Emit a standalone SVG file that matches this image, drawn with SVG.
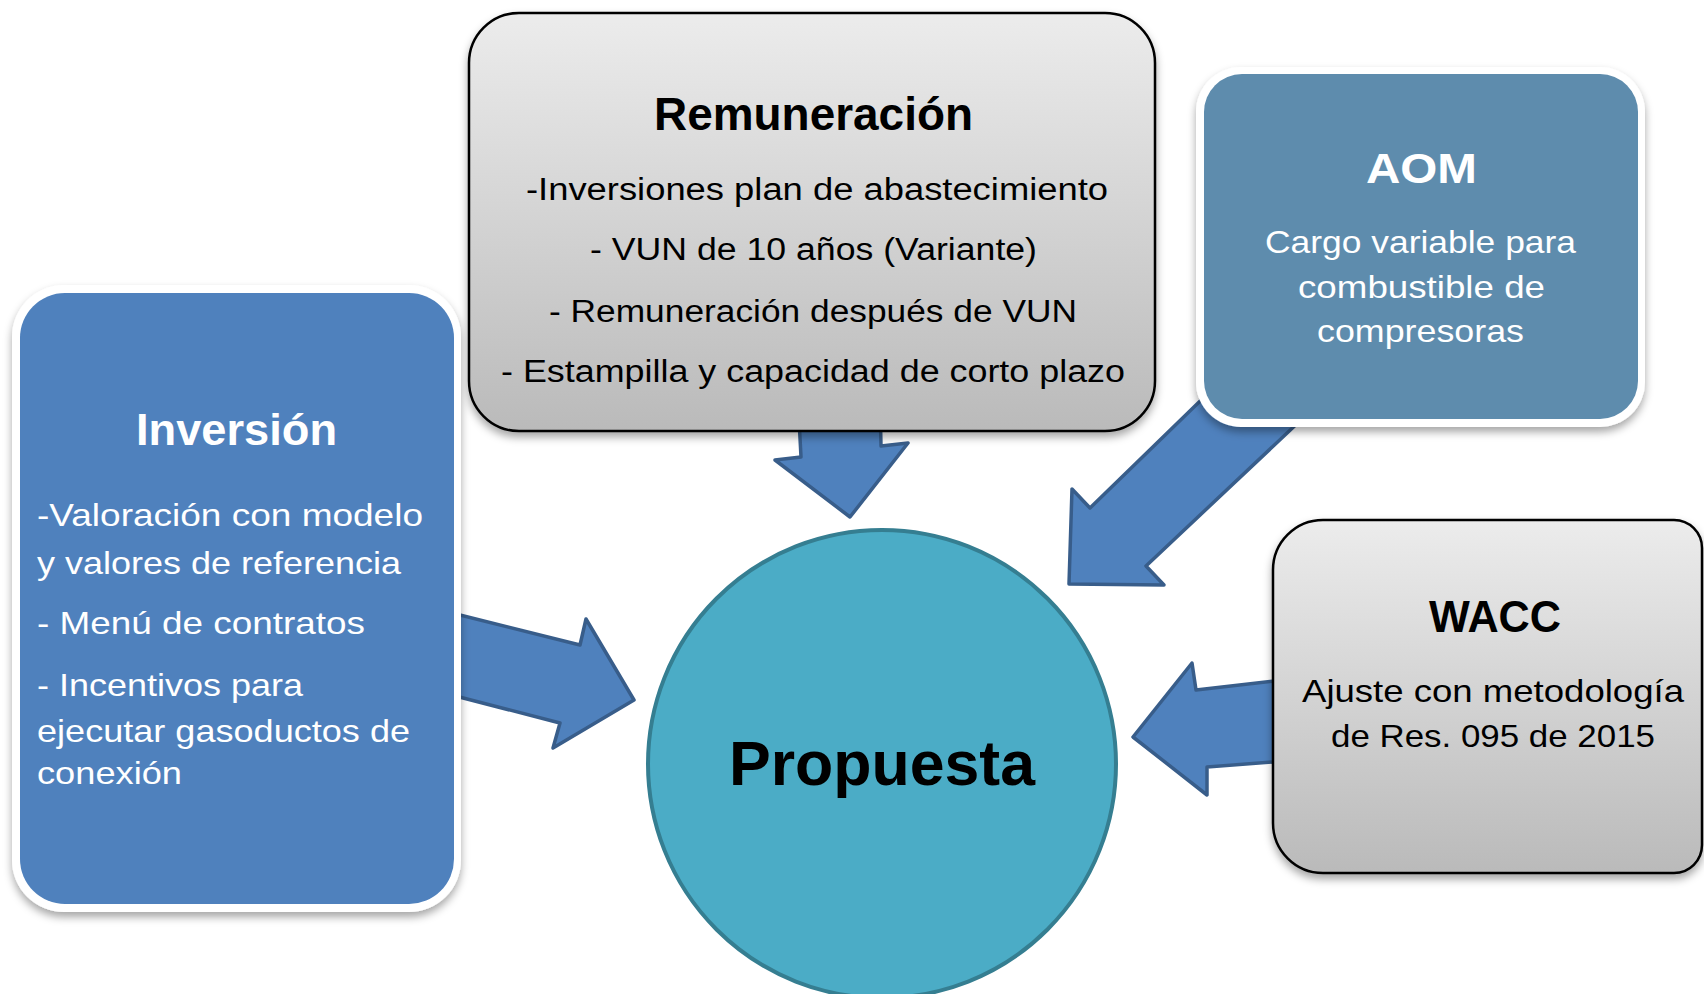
<svg xmlns="http://www.w3.org/2000/svg" width="1704" height="994" viewBox="0 0 1704 994">
<defs>
<linearGradient id="gray" x1="0" y1="0" x2="0" y2="1">
<stop offset="0" stop-color="#ececec"/>
<stop offset="1" stop-color="#bababa"/>
</linearGradient>
<filter id="sh" x="-10%" y="-10%" width="120%" height="125%">
<feDropShadow dx="0" dy="5" stdDeviation="4" flood-color="#000" flood-opacity="0.35"/>
</filter>
</defs>
<style>
text{font-family:"Liberation Sans",Arial,sans-serif;}
.t{font-weight:bold;}
.w{fill:#ffffff;}
.k{fill:#000000;}
.arrow{fill:#4f81bd;stroke:#385d8a;stroke-width:3.5;stroke-linejoin:round;}
.grayBox{fill:url(#gray);stroke:#000;stroke-width:2.5;}
</style>
<rect width="1704" height="994" fill="#ffffff"/>
<g id="connectors">
<polygon class="arrow" points="798,400 801,457 775,460 850,517 908,443 881,446 880,400"/>
<polygon class="arrow" points="1230,372 1090,508 1072,489 1069,584 1164,585 1146,566 1320,402"/>
<polygon class="arrow" points="440,610 580,645 586,619 634,700 553,748 560,723 440,692"/>
<polygon class="arrow" points="1300,678 1196,690 1192,663 1133,737 1207,795 1207,767 1300,760"/>
</g>
<g id="remuneracion">
<rect class="grayBox" x="469" y="13" width="686" height="418" rx="50" filter="url(#sh)"/>
<text class="t k" x="654" y="130" font-size="46" textLength="319" lengthAdjust="spacingAndGlyphs">Remuneración</text>
<text class="k" x="526" y="200" font-size="31" textLength="582" lengthAdjust="spacingAndGlyphs">-Inversiones plan de abastecimiento</text>
<text class="k" x="590" y="260" font-size="31" textLength="447" lengthAdjust="spacingAndGlyphs">- VUN de 10 años (Variante)</text>
<text class="k" x="549" y="322" font-size="31" textLength="528" lengthAdjust="spacingAndGlyphs">- Remuneración después de VUN</text>
<text class="k" x="501" y="382" font-size="31" textLength="624" lengthAdjust="spacingAndGlyphs">- Estampilla y capacidad de corto plazo</text>
</g>
<g id="aom">
<rect x="1196" y="67" width="449" height="360" rx="45" fill="#ffffff" filter="url(#sh)"/>
<rect x="1204" y="74" width="434" height="345" rx="38" fill="#5e8cad"/>
<text class="t w" x="1366" y="183" font-size="43" textLength="111" lengthAdjust="spacingAndGlyphs">AOM</text>
<text class="w" x="1265" y="253" font-size="32" textLength="311" lengthAdjust="spacingAndGlyphs">Cargo variable para</text>
<text class="w" x="1298" y="298" font-size="32" textLength="247" lengthAdjust="spacingAndGlyphs">combustible de</text>
<text class="w" x="1317" y="342" font-size="32" textLength="207" lengthAdjust="spacingAndGlyphs">compresoras</text>
</g>
<g id="inversion">
<rect x="12" y="285" width="449" height="627" rx="52" fill="#ffffff" filter="url(#sh)"/>
<rect x="20" y="293" width="434" height="611" rx="45" fill="#4f81bd"/>
<text class="t w" x="136" y="445" font-size="45" textLength="201" lengthAdjust="spacingAndGlyphs">Inversión</text>
<text class="w" x="37" y="526" font-size="32" textLength="386" lengthAdjust="spacingAndGlyphs">-Valoración con modelo</text>
<text class="w" x="37" y="574" font-size="32" textLength="364" lengthAdjust="spacingAndGlyphs">y valores de referencia</text>
<text class="w" x="37" y="634" font-size="32" textLength="328" lengthAdjust="spacingAndGlyphs">- Menú de contratos</text>
<text class="w" x="37" y="696" font-size="32" textLength="266" lengthAdjust="spacingAndGlyphs">- Incentivos para</text>
<text class="w" x="37" y="742" font-size="32" textLength="373" lengthAdjust="spacingAndGlyphs">ejecutar gasoductos de</text>
<text class="w" x="37" y="784" font-size="32" textLength="145" lengthAdjust="spacingAndGlyphs">conexión</text>
</g>
<g id="wacc">
<path class="grayBox" d="M1323,520 H1674 A28,28 0 0 1 1702,548 V845 A28,28 0 0 1 1674,873 H1323 A50,50 0 0 1 1273,823 V570 A50,50 0 0 1 1323,520 Z" filter="url(#sh)"/>
<text class="t k" x="1429" y="632" font-size="45" textLength="132" lengthAdjust="spacingAndGlyphs">WACC</text>
<text class="k" x="1302" y="702" font-size="32" textLength="382" lengthAdjust="spacingAndGlyphs">Ajuste con metodología</text>
<text class="k" x="1331" y="747" font-size="32" textLength="324" lengthAdjust="spacingAndGlyphs">de Res. 095 de 2015</text>
</g>
<g id="propuesta">
<circle cx="882" cy="764" r="234" fill="#4bacc6" stroke="#357e91" stroke-width="4"/>
<text class="t k" x="729" y="785" font-size="63" textLength="306" lengthAdjust="spacingAndGlyphs">Propuesta</text>
</g>
</svg>
